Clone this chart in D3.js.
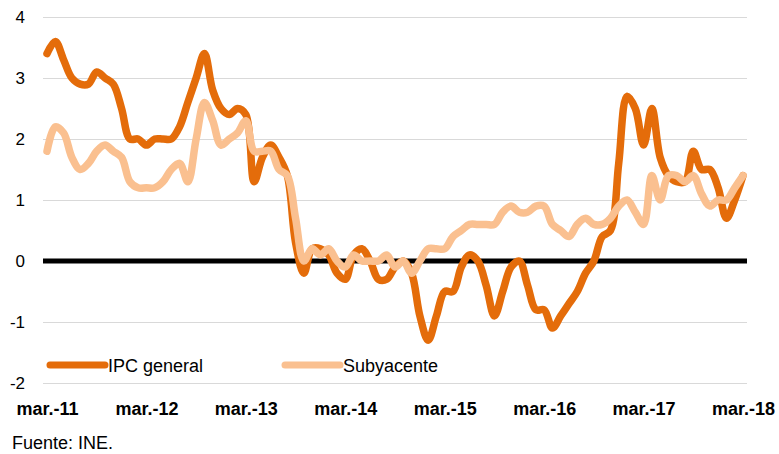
<!DOCTYPE html>
<html>
<head>
<meta charset="utf-8">
<script src="https://cdn.jsdelivr.net/npm/d3@7"></script>
<style>
  body { margin: 0; background: #fff; }
  text { font-family: "Liberation Sans", Arial, Helvetica, sans-serif; fill: #000; }
</style>
</head>
<body>
<div id="chart"></div>
<script>
// meses de mar.-11 a mar.-18 (85 categorías)
const categories = d3.timeMonth.range(new Date(2011, 2, 1), new Date(2018, 3, 1));
const tickLabels = ["mar.-11", "mar.-12", "mar.-13", "mar.-14", "mar.-15", "mar.-16", "mar.-17", "mar.-18"];
const yTicks = [-2, -1, 0, 1, 2, 3, 4];

const ipcGeneral = [
  3.4, 3.6, 3.3, 3.0, 2.9, 2.9, 3.1, 3.0, 2.9, 2.5,
  2.0, 2.0, 1.9, 2.0, 2.0, 2.0, 2.2, 2.6, 3.0, 3.4,
  2.8, 2.5, 2.4, 2.5, 2.4, 1.3, 1.7, 1.9, 1.7, 1.4,
  0.3, -0.2, 0.2, 0.2, 0.1, -0.2, -0.3, 0.1, 0.2, 0.0,
  -0.3, -0.3, -0.1, 0.0, -0.2, -0.9, -1.3, -0.9, -0.5, -0.5,
  -0.1, 0.1, 0.0, -0.4, -0.9, -0.5, -0.1, 0.0, -0.4, -0.8,
  -0.8, -1.1, -0.9, -0.7, -0.5, -0.2, 0.0, 0.4, 0.5, 1.6,
  2.7, 2.5, 1.9, 2.5, 1.7, 1.4, 1.3, 1.3, 1.8, 1.5,
  1.5, 1.2, 0.7, 1.0, 1.4
];

const subyacente = [
  1.8, 2.2, 2.1, 1.7, 1.5, 1.6, 1.8, 1.9, 1.8, 1.7,
  1.3, 1.2, 1.2, 1.2, 1.3, 1.5, 1.6, 1.3, 2.0, 2.6,
  2.3, 1.9, 2.0, 2.1, 2.3, 1.8, 1.8, 1.8, 1.5, 1.4,
  0.7, 0.0, 0.2, 0.1, 0.2, 0.0, -0.1, 0.1, 0.0, 0.0,
  0.0, 0.1, -0.1, 0.0, -0.2, 0.0, 0.2, 0.2, 0.2, 0.4,
  0.5, 0.6, 0.6, 0.6, 0.6, 0.8, 0.9, 0.8, 0.8, 0.9,
  0.9, 0.6, 0.5, 0.4, 0.6, 0.7, 0.6, 0.6, 0.7, 0.9,
  1.0, 0.8, 0.6, 1.4, 1.0, 1.4, 1.4, 1.3, 1.4, 1.1,
  0.9, 1.0, 1.0, 1.2, 1.4
];

const width = 779, height = 454;
const plot = { left: 43, right: 747, top: 17, bottom: 383 };

const svg = d3.select("#chart").append("svg")
  .attr("width", width)
  .attr("height", height);

const x = d3.scalePoint()
  .domain(categories)
  .range([47, 743]);

const y = d3.scaleLinear()
  .domain([-2, 4])
  .range([plot.bottom, plot.top]);

// eje Y con rejilla
const yAxis = svg.append("g")
  .attr("transform", `translate(${plot.left},0)`)
  .call(d3.axisLeft(y)
    .tickValues(yTicks)
    .tickSize(-(plot.right - plot.left))
    .tickPadding(18)
    .tickFormat(d => String(d)));
yAxis.select(".domain").remove();
yAxis.selectAll(".tick line").attr("stroke", "#d9d9d9").attr("stroke-width", 1);
yAxis.selectAll(".tick text").style("font-size", "17px");

// línea del cero
svg.append("line")
  .attr("x1", plot.left).attr("x2", plot.right)
  .attr("y1", y(0)).attr("y2", y(0))
  .attr("stroke", "#000")
  .attr("stroke-width", 5);

// eje X
const marzos = categories.filter(d => d.getMonth() === 2);
const xAxis = svg.append("g")
  .attr("transform", `translate(0,${plot.bottom})`)
  .call(d3.axisBottom(x)
    .tickValues(marzos)
    .tickSize(0)
    .tickPadding(19)
    .tickFormat((d, i) => tickLabels[i]));
xAxis.select(".domain").remove();
xAxis.selectAll(".tick text")
  .style("font-size", "18px")
  .style("font-weight", "bold");

const line = d3.line()
  .x((d, i) => x(categories[i]))
  .y(d => y(d))
  .curve(d3.curveCatmullRom.alpha(0.5));

const series = [
  { name: "IPC general", values: ipcGeneral, color: "#e46c0a", lx: 50 },
  { name: "Subyacente", values: subyacente, color: "#fac090", lx: 285 }
];

svg.selectAll("path.serie")
  .data(series)
  .enter()
  .append("path")
  .attr("class", "serie")
  .attr("fill", "none")
  .attr("stroke", d => d.color)
  .attr("stroke-width", 7.5)
  .attr("stroke-linecap", "round")
  .attr("stroke-linejoin", "round")
  .attr("d", d => line(d.values));

// leyenda
const legend = svg.selectAll("g.legend")
  .data(series)
  .enter()
  .append("g")
  .attr("class", "legend")
  .attr("transform", d => `translate(${d.lx},365)`);
legend.append("line")
  .attr("x1", 0).attr("x2", 55)
  .attr("stroke", d => d.color)
  .attr("stroke-width", 7)
  .attr("stroke-linecap", "round");
legend.append("text")
  .attr("x", 58)
  .attr("y", 7)
  .style("font-size", "18px")
  .text(d => d.name);

svg.append("text")
  .attr("x", 12)
  .attr("y", 449)
  .style("font-size", "18px")
  .text("Fuente: INE.");
</script>
</body>
</html>
